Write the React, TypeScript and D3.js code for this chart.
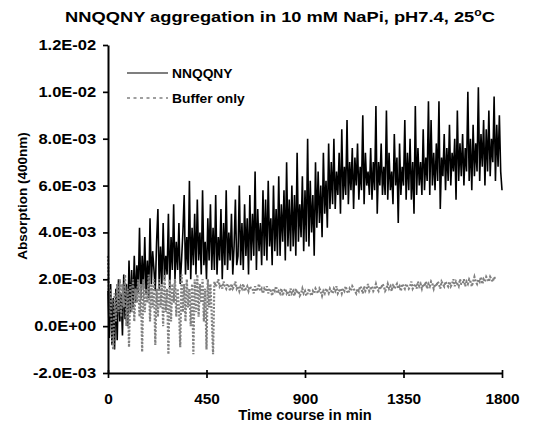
import * as d3 from 'd3';
import React, { useEffect, useRef } from 'react';

// readings every 6 min, absorption in units of 1E-4
const timeStep = 6;
const unit = 1e-4;

const nnqqny = [
    15, -5, 18, -8, 12, -10, 16, -6, 20, 2,
    14, -4, 22, 3, 18, 0, 28, 6, 24, 8,
    30, 10, 26, 14, 42, 12, 30, 16, 38, 14,
    28, 12, 46, 18, 32, 24, 15, 36, 50, 16,
    34, 18, 44, 20, 30, 22, 48, 16, 38, 24,
    52, 20, 36, 24, 44, 18, 28, 40, 56, 22,
    38, 24, 62, 20, 42, 26, 48, 22, 54, 28,
    40, 22, 58, 26, 36, 20, 46, 28, 52, 24,
    42, 24, 56, 22, 38, 28, 50, 20, 44, 26,
    58, 24, 40, 28, 48, 22, 34, 54, 26, 30,
    60, 26, 44, 24, 52, 30, 46, 22, 56, 28,
    48, 30, 66, 24, 50, 32, 44, 26, 58, 30,
    54, 28, 62, 34, 46, 26, 60, 32, 50, 30,
    64, 30, 52, 36, 58, 28, 70, 34, 54, 32,
    60, 34, 56, 30, 74, 36, 52, 38, 64, 32,
    58, 36, 80, 34, 62, 40, 56, 30, 70, 42,
    66, 44, 60, 38, 74, 48, 62, 42, 78, 50,
    70, 52, 80, 50, 66, 56, 74, 48, 84, 54,
    68, 56, 88, 52, 70, 58, 76, 50, 72, 60,
    78, 54, 68, 58, 90, 52, 74, 60, 66, 56,
    76, 54, 70, 58, 94, 48, 70, 60, 78, 56,
    68, 56, 92, 54, 74, 58, 66, 52, 82, 60,
    72, 44, 78, 56, 68, 60, 88, 54, 74, 58,
    80, 54, 70, 48, 94, 56, 76, 60, 70, 56,
    84, 58, 72, 62, 96, 56, 88, 60, 74, 58,
    78, 62, 96, 50, 72, 64, 82, 58, 76, 62,
    86, 60, 74, 66, 80, 54, 92, 62, 78, 64,
    82, 60, 76, 66, 100, 62, 80, 58, 86, 64,
    78, 66, 102, 62, 82, 68, 88, 60, 84, 66,
    92, 64, 80, 70, 98, 62, 86, 68, 90, 66,
    58
];

const bufferOnly = [
    30, 4, 16, -6, -10, 14, 2, 18, 6, 20,
    4, 18, 8, 22, 0, 16, -9, 18, 6, 20,
    2, 16, 10, 20, 4, 18, -11, 20, 6, 16,
    10, 22, 2, 18, 8, 20, -8, 16, 4, 20,
    8, 18, 0, 22, 6, 16, -12, 20, 2, 18,
    10, 20, 4, 16, 8, -9, 22, 6, 18, 2,
    20, 8, 16, 0, 18, -12, 20, 6, 22, 4,
    18, 10, 20, 2, 16, -10, 20, 8, 18, 4,
    -12, 19, 17, 18, 20, 17, 18, 16, 19, 17,
    16, 18, 17, 15, 18, 16, 17, 19, 16, 17,
    15, 17, 16, 18, 15, 16, 17, 15, 17, 16,
    16, 14, 17, 15, 16, 18, 15, 16, 14, 16,
    15, 17, 14, 16, 15, 13, 16, 15, 17, 14,
    15, 14, 16, 13, 15, 16, 14, 15, 13, 16,
    14, 15, 13, 16, 14, 15, 13, 14, 16, 14,
    15, 13, 14, 16, 14, 13, 15, 14, 16, 15,
    14, 16, 15, 13, 15, 14, 16, 15, 14, 16,
    15, 14, 16, 15, 17, 14, 15, 16, 14, 16,
    15, 17, 15, 14, 16, 15, 17, 16, 15, 14,
    16, 15, 17, 16, 14, 17, 15, 16, 18, 15,
    16, 17, 15, 16, 18, 16, 15, 17, 16, 18,
    17, 15, 16, 18, 16, 17, 15, 18, 16, 17,
    18, 16, 17, 15, 18, 17, 16, 18, 17, 16,
    17, 19, 16, 17, 18, 16, 19, 17, 18, 16,
    18, 17, 19, 16, 18, 17, 19, 18, 16, 18,
    17, 19, 18, 16, 19, 18, 17, 19, 18, 17,
    19, 17, 18, 20, 17, 19, 18, 17, 20, 18,
    18, 20, 17, 19, 18, 20, 19, 17, 19, 21,
    19, 18, 20, 19, 21, 18, 20, 19, 21, 20,
    19, 21, 20, 19, 21, 20
];

const xTicks = [0, 450, 900, 1350, 1800];
const yTicks = [-0.002, 0, 0.002, 0.004, 0.006, 0.008, 0.01, 0.012];
const seriesNames = ['NNQQNY', 'Buffer only'];

const fontFamily = '"Liberation Sans", Arial, sans-serif';

const sciLabel = v => {
    const [mantissa, exp] = (+v).toExponential(1).split('e');
    const sign = exp[0] === '-' ? '-' : '+';
    return mantissa + 'E' + sign + exp.replace(/[+-]/, '').padStart(2, '0');
};

const App = () => {
    const svgRef = useRef(null);

    useEffect(() => {
        const svg = d3.select(svgRef.current);
        svg.selectAll('*').remove();

        const x = d3.scaleLinear().domain([0, 1800]).range([108, 502]);
        const y = d3.scaleLinear().domain([-0.002, 0.012]).range([373, 45]);

        const line = d3.line()
            .x((d, i) => x(i * timeStep))
            .y(d => y(d * unit));

        svg.append('path')
            .datum(nnqqny)
            .attr('fill', 'none')
            .attr('stroke', '#000')
            .attr('stroke-width', 1.6)
            .attr('stroke-linejoin', 'bevel')
            .attr('d', line);

        svg.append('path')
            .datum(bufferOnly)
            .attr('fill', 'none')
            .attr('stroke', '#808080')
            .attr('stroke-width', 2.2)
            .attr('stroke-dasharray', '2,1.6')
            .attr('d', line);

        // y axis
        const yAxis = svg.append('g')
            .attr('transform', 'translate(108, 0)')
            .call(d3.axisLeft(y).tickValues(yTicks).tickSize(5).tickSizeOuter(0).tickPadding(5).tickFormat(sciLabel));
        yAxis.select('.domain').attr('stroke', '#000').attr('stroke-width', 2);
        yAxis.selectAll('.tick line').attr('stroke', '#000').attr('stroke-width', 1.7);
        yAxis.selectAll('.tick text')
            .attr('fill', '#000')
            .attr('font-family', fontFamily)
            .attr('font-weight', 'bold')
            .attr('font-size', 14)
            .attr('transform', 'scale(1.18, 1)');

        // x axis
        const xAxis = svg.append('g')
            .attr('transform', 'translate(0, 373)')
            .call(d3.axisBottom(x).tickValues(xTicks).tickSize(5).tickSizeOuter(0).tickFormat(d3.format('d')));
        xAxis.select('.domain').attr('stroke', '#000').attr('stroke-width', 2);
        xAxis.selectAll('.tick line').attr('stroke', '#000').attr('stroke-width', 1.7).attr('y1', -3).attr('y2', 5);
        xAxis.selectAll('.tick text')
            .attr('fill', '#000')
            .attr('font-family', fontFamily)
            .attr('font-weight', 'bold')
            .attr('font-size', 14)
            .attr('y', 31)
            .attr('dy', 0)
            .attr('transform', 'scale(1.1, 1)');

        // title
        const title = svg.append('text')
            .attr('transform', 'translate(280, 22) scale(1.22, 1)')
            .attr('text-anchor', 'middle')
            .attr('font-family', fontFamily)
            .attr('font-weight', 'bold')
            .attr('font-size', 15);
        title.append('tspan').text('NNQQNY aggregation in 10 mM NaPi, pH7.4, 25');
        title.append('tspan').attr('font-size', 10).attr('dy', -6).text('o');
        title.append('tspan').attr('dy', 6).text('C');

        svg.append('text')
            .attr('transform', 'translate(305, 420) scale(1.05, 1)')
            .attr('text-anchor', 'middle')
            .attr('font-family', fontFamily)
            .attr('font-weight', 'bold')
            .attr('font-size', 14)
            .text('Time course in min');

        svg.append('text')
            .attr('transform', 'translate(27, 196) rotate(-90)')
            .attr('text-anchor', 'middle')
            .attr('font-family', fontFamily)
            .attr('font-weight', 'bold')
            .attr('font-size', 13.5)
            .text('Absorption (400nm)');

        // legend
        const legend = svg.append('g');
        legend.append('line')
            .attr('x1', 127).attr('x2', 168).attr('y1', 73).attr('y2', 73)
            .attr('stroke', '#000').attr('stroke-width', 1.2);
        legend.append('line')
            .attr('x1', 127).attr('x2', 168).attr('y1', 98).attr('y2', 98)
            .attr('stroke', '#808080').attr('stroke-width', 1.7).attr('stroke-dasharray', '3,3.5');
        seriesNames.forEach((name, i) => {
            legend.append('text')
                .attr('transform', 'translate(172, ' + (77.5 + i * 25) + ') scale(1.15, 1)')
                .attr('font-family', fontFamily)
                .attr('font-weight', 'bold')
                .attr('font-size', 12)
                .text(name);
        });
    }, []);

    return (
        <svg ref={svgRef} width={543} height={432}
            style={{ position: 'absolute', left: 0, top: 0, background: '#fff' }} />
    );
};

export default App;
